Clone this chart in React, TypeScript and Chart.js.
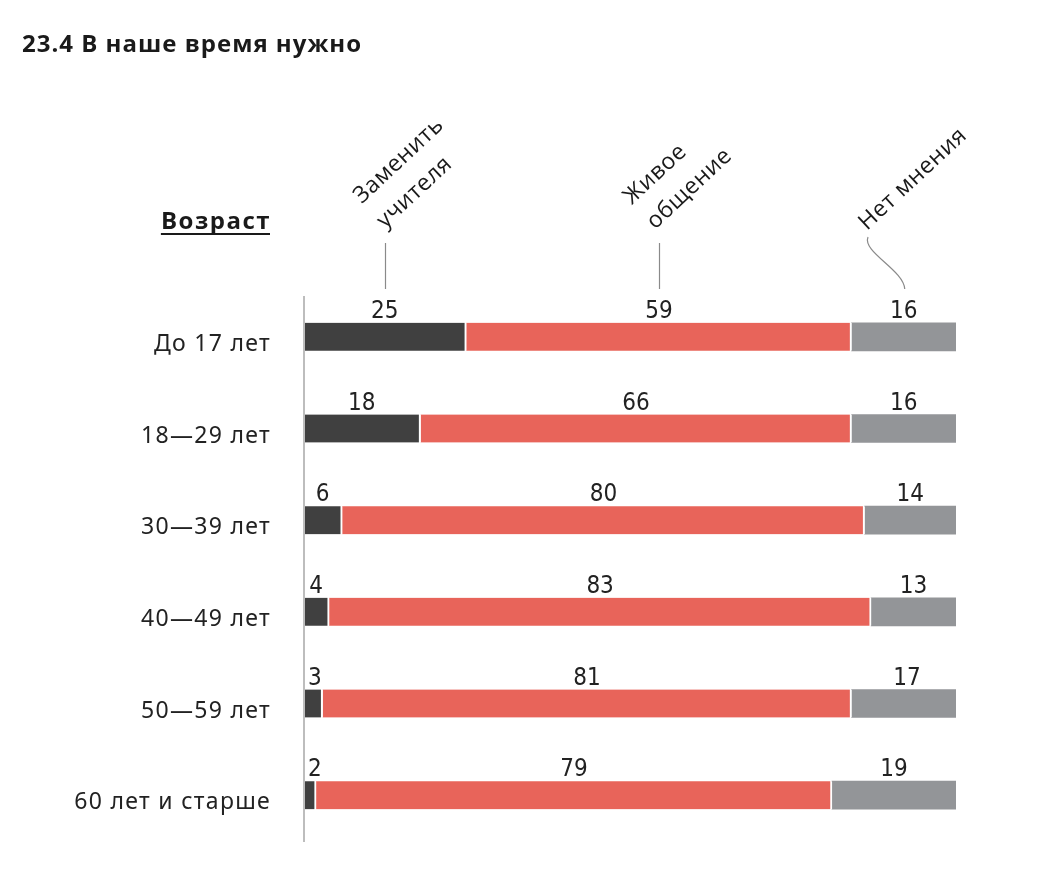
import React, { useEffect, useRef } from "react";
import { Chart, registerables } from "chart.js";

Chart.register(...registerables);

const titleText = "23.4 В наше время нужно";
const axisTitle = "Возраст";
const categories = ["До 17 лет", "18—29 лет", "30—39 лет", "40—49 лет", "50—59 лет", "60 лет и старше"];
const seriesLabels = [["Заменить", "учителя"], ["Живое", "общение"], ["Нет мнения"]];
const replaceTeacher = [25, 18, 6, 4, 3, 2];
const liveContact = [59, 66, 80, 83, 81, 79];
const noOpinion = [16, 16, 14, 13, 17, 19];
const seriesColors = ["#404040", "#E8645A", "#939598"];

const W = 1048;
const H = 873;

const overlay = {
  id: "overlay",
  afterDraw(chart: any) {
    const ctx = chart.ctx as CanvasRenderingContext2D;
    const c: any = ctx;
    const area = chart.chartArea;
    const yScale = chart.scales.y;
    ctx.save();

    // title
    ctx.fillStyle = "#1a1a1a";
    ctx.font = "bold 24px 'Open Sans', sans-serif";
    c.letterSpacing = "1px";
    ctx.textAlign = "left";
    ctx.textBaseline = "alphabetic";
    ctx.fillText(titleText, 22, 52);

    // axis title
    ctx.font = "bold 24px 'Open Sans', sans-serif";
    c.letterSpacing = "1.5px";
    ctx.textAlign = "right";
    const aw = ctx.measureText(axisTitle).width;
    ctx.fillText(axisTitle, 271, 229);
    ctx.fillRect(270 - aw + 1, 233, aw - 1, 2);

    // axis line
    ctx.strokeStyle = "#bdbdbd";
    ctx.lineWidth = 2;
    ctx.beginPath();
    ctx.moveTo(area.left + 1, 296);
    ctx.lineTo(area.left + 1, 842);
    ctx.stroke();

    // category labels
    ctx.fillStyle = "#222";
    ctx.font = "23px 'Noto Sans', sans-serif";
    c.letterSpacing = "1.3px";
    ctx.textAlign = "right";
    categories.forEach((cat, i) => {
      const y = yScale.getPixelForValue(i);
      ctx.fillText(cat, 271, y + 14);
    });

    // value labels
    c.letterSpacing = "0px";
    ctx.font = "24px 'Liberation Sans Narrow', 'DejaVu Sans Condensed', sans-serif";
    ctx.textAlign = "center";
    ctx.fillStyle = "#222";
    chart.data.datasets.forEach((ds: any, di: number) => {
      const meta = chart.getDatasetMeta(di);
      meta.data.forEach((el: any, j: number) => {
        const txt = String(ds.data[j]);
        const w = ctx.measureText(txt).width;
        const l = Math.min(el.x, el.base);
        const r = Math.max(el.x, el.base);
        let cx = (l + r) / 2;
        cx = Math.max(cx, area.left + 5 + w / 2);
        ctx.fillText(txt, cx, el.y - 19);
      });
    });

    // headers with leader lines
    const angle = (-43 * Math.PI) / 180;
    const lh = 34;
    const anchors = [
      { x: 385, y: 229 },
      { x: 655, y: 230 },
      { x: 867, y: 231 },
    ];
    ctx.font = "23px 'Open Sans', sans-serif";
    c.letterSpacing = "0.5px";
    ctx.textAlign = "left";
    ctx.fillStyle = "#1a1a1a";
    seriesLabels.forEach((lines, i) => {
      ctx.save();
      ctx.translate(anchors[i].x, anchors[i].y);
      ctx.rotate(angle);
      lines.forEach((ln, k) => {
        ctx.fillText(ln, 0, -(lines.length - 1 - k) * lh);
      });
      ctx.restore();
    });
    c.letterSpacing = "0px";

    ctx.strokeStyle = "#8a8a8a";
    ctx.lineWidth = 1.2;
    for (let i = 0; i < 2; i++) {
      const el = chart.getDatasetMeta(i).data[0];
      const cx = Math.round((el.x + el.base) / 2) + 0.5;
      ctx.beginPath();
      ctx.moveTo(cx, 243);
      ctx.lineTo(cx, 289);
      ctx.stroke();
    }
    const g = chart.getDatasetMeta(2).data[0];
    const gx = (g.x + g.base) / 2;
    ctx.beginPath();
    ctx.moveTo(868, 237);
    ctx.bezierCurveTo(862, 252, gx, 270, gx + 1, 289);
    ctx.stroke();

    ctx.restore();
  },
};

export default function App() {
  const ref = useRef<HTMLCanvasElement | null>(null);
  useEffect(() => {
    if (!ref.current) return;
    const chart = new Chart(ref.current, {
      type: "bar",
      data: {
        labels: categories,
        datasets: [
          {
            label: seriesLabels[0].join(" "),
            data: replaceTeacher,
            backgroundColor: seriesColors[0],
            borderColor: "#ffffff",
            borderWidth: { left: 0, right: 2, top: 0, bottom: 0 },
            borderSkipped: false,
            barThickness: 28,
          },
          {
            label: seriesLabels[1].join(" "),
            data: liveContact,
            backgroundColor: seriesColors[1],
            borderColor: "#ffffff",
            borderWidth: { left: 0, right: 2, top: 0, bottom: 0 },
            borderSkipped: false,
            barThickness: 28,
          },
          {
            label: seriesLabels[2].join(" "),
            data: noOpinion,
            backgroundColor: seriesColors[2],
            borderWidth: 0,
            barThickness: 28,
          },
        ],
      },
      options: {
        indexAxis: "y",
        responsive: false,
        animation: false,
        devicePixelRatio: 1,
        layout: { padding: { left: 303, right: 92, top: 291, bottom: 32 } },
        plugins: { legend: { display: false }, tooltip: { enabled: false }, title: { display: false } },
        scales: {
          x: { stacked: true, min: 0, max: 100, display: false },
          y: { stacked: true, display: false },
        },
      },
      plugins: [overlay],
    } as any);
    return () => chart.destroy();
  }, []);
  return (
    <div style={{ position: "absolute", left: 0, top: 0, width: W, height: H, background: "#fff" }}>
      <canvas ref={ref} width={W} height={H} style={{ width: W, height: H, display: "block" }} />
    </div>
  );
}
